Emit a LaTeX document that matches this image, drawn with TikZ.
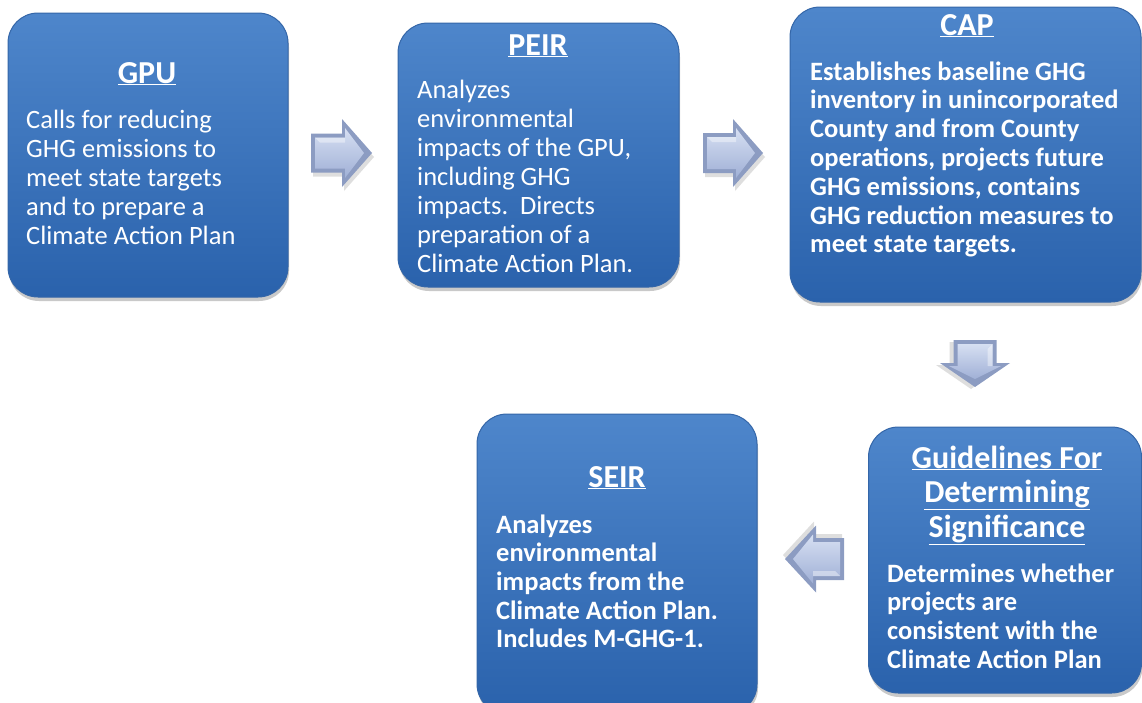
\documentclass[tikz,border=0pt]{standalone}
\usepackage{fontspec}
\setmainfont{Carlito}
\usetikzlibrary{shadows}
\definecolor{boxtop}{RGB}{78,134,203}
\definecolor{boxbot}{RGB}{42,98,172}
\definecolor{boxedge}{RGB}{52,102,168}
\definecolor{arredge}{RGB}{140,156,194}
\definecolor{arrtop}{RGB}{214,223,242}
\definecolor{arrbot}{RGB}{160,176,214}
\newcommand\BevArrow[6]{%
\begin{scope}[shift={#1}, rotate=#2]
 \fill[black, opacity=.13] (2,{-#5+4}) -- ({#3-#4+2},{-#5+4}) -- ({#3-#4+2},{-#6+4}) -- ({#3+2},4) -- ({#3-#4+2},{#6+4}) -- ({#3-#4+2},{#5+4}) -- (2,{#5+4}) -- cycle;
 \fill[arredge] (0,-#5) -- ({#3-#4},-#5) -- ({#3-#4},-#6) -- (#3,0) -- ({#3-#4},#6) -- ({#3-#4},#5) -- (0,#5) -- cycle;
 \shade[top color=arrtop, bottom color=arrbot] (4,{-#5+4}) -- ({#3-#4+3},{-#5+4}) -- ({#3-#4+3},{-#6+9}) -- ({#3-8},0) -- ({#3-#4+3},{#6-9}) -- ({#3-#4+3},{#5-4}) -- (4,{#5-4}) -- cycle;
 \fill[white, opacity=.4] (4,{-#5+4}) -- ({#3-#4+3},{-#5+4}) -- ({#3-#4+3},{-#5+9}) -- (9,{-#5+9}) -- cycle;
\end{scope}}
\tikzset{
  box/.style={rectangle, rounded corners=30pt, top color=boxtop, bottom color=boxbot,
    draw=boxedge, line width=1pt,
    drop shadow={shadow xshift=1pt, shadow yshift=-4pt, opacity=.3, fill=black!70}},
  ttl/.style={text=white, font=\fontsize{32}{36}\selectfont\bfseries, anchor=base, inner sep=0pt},
  bodyr/.style={text=white, font=\fontsize{26.5}{29}\selectfont, anchor=base west, inner sep=0pt},
  bodyb/.style={text=white, font=\fontsize{26.5}{29}\selectfont\bfseries, anchor=base west, inner sep=0pt}
}
\begin{document}
\begin{tikzpicture}[x=1pt, y=-1pt]
\useasboundingbox (0,0) rectangle (1142,702);
\clip (0,0) rectangle (1142,702);
% boxes
\node[box, minimum width=280pt, minimum height=284pt] (gpu) at (148,155) {};
\node[box, minimum width=281pt, minimum height=264pt] (peir) at (538.5,155) {};
\node[box, minimum width=351pt, minimum height=295pt] (cap) at (965.5,154.5) {};
\node[box, minimum width=273pt, minimum height=266pt] (guide) at (1005,560) {};
\node[box, minimum width=280pt, minimum height=300pt] (seir) at (617,564) {};
% arrows
\BevArrow{(311,153)}{0}{61}{30}{19.5}{34}
\BevArrow{(703,153)}{0}{60}{30}{20}{34}
\BevArrow{(975,340)}{-90}{47}{24}{21.5}{35}
\BevArrow{(844,559)}{180}{59}{31}{21}{33.5}
% GPU
\node[ttl] (gput) at (147,83) {\underline{GPU}};
\foreach \t [count=\i from 0] in {Calls for reducing, GHG emissions to, meet state targets, and to prepare a, Climate Action Plan}
  \node[bodyr] (gpu-\i) at (26,{128+29*\i}) {\t};
% PEIR
\node[ttl] (peirt) at (538,55) {\underline{PEIR}};
\foreach \t [count=\i from 0] in {Analyzes, environmental, {impacts of the GPU,}, including GHG, {impacts.\ \ Directs}, preparation of a, Climate Action Plan.}
  \node[bodyr] (peir-\i) at (417,{98+29*\i}) {\t};
% CAP
\node[ttl] (capt) at (967,35) {\underline{CAP}};
\foreach \t [count=\i from 0] in {Establishes baseline GHG, inventory in unincorporated, County and from County, {operations, projects future}, {GHG emissions, contains}, GHG reduction measures to, meet state targets.}
  \node[bodyb] (cap-\i) at (810,{80+28.8*\i}) {\t};
% Guidelines
\foreach \t [count=\i from 0] in {Guidelines For, Determining, Significance}
  \node[ttl] (guidet-\i) at (1007,{468+34.5*\i}) {\underline{\t}};
\foreach \t [count=\i from 0] in {Determines whether, projects are, consistent with the, Climate Action Plan}
  \node[bodyb] (guide-\i) at (887,{582+28.7*\i}) {\t};
% SEIR
\node[ttl] (seirt) at (617,487) {\underline{SEIR}};
\foreach \t [count=\i from 0] in {Analyzes, environmental, impacts from the, Climate Action Plan., Includes M-GHG-1.}
  \node[bodyb] (seir-\i) at (496,{533+28.7*\i}) {\t};
\end{tikzpicture}
\end{document}
